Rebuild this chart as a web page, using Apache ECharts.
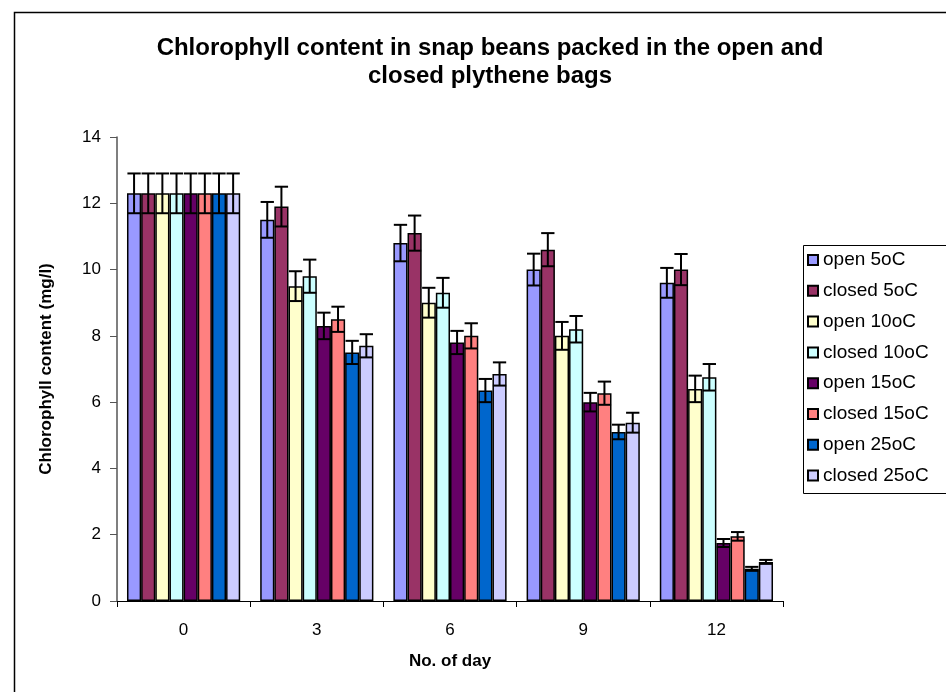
<!DOCTYPE html>
<html>
<head>
<meta charset="utf-8">
<script src="https://cdn.jsdelivr.net/npm/echarts@6/dist/echarts.min.js"></script>
<style>html,body{margin:0;padding:0;background:#fff;}#c{width:946px;height:692px;}</style>
</head>
<body>
<div id="c"></div>
<script>
var days = ['0', '3', '6', '9', '12'];
var seriesNames = ['open 5oC', 'closed 5oC', 'open 10oC', 'closed 10oC', 'open 15oC', 'closed 15oC', 'open 25oC', 'closed 25oC'];
var colors = ['#9999FF', '#993366', '#FFFFCC', '#CCFFFF', '#660066', '#FF8080', '#0066CC', '#CCCCFF'];

var open5    = [12.3, 11.5, 10.8, 10.0, 9.6];
var closed5  = [12.3, 11.9, 11.1, 10.6, 10.0];
var open10   = [12.3, 9.5, 9.0, 8.0, 6.4];
var closed10 = [12.3, 9.8, 9.3, 8.2, 6.75];
var open15   = [12.3, 8.3, 7.8, 6.0, 1.75];
var closed15 = [12.3, 8.5, 8.0, 6.27, 1.95];
var open25   = [12.3, 7.5, 6.35, 5.1, 0.97];
var closed25 = [12.3, 7.7, 6.85, 5.38, 1.18];

var err_open5    = [0.6, 0.54, 0.55, 0.48, 0.45];
var err_closed5  = [0.6, 0.6, 0.53, 0.5, 0.47];
var err_open10   = [0.6, 0.45, 0.45, 0.42, 0.4];
var err_closed10 = [0.6, 0.5, 0.45, 0.4, 0.4];
var err_open15   = [0.6, 0.4, 0.35, 0.28, 0.12];
var err_closed15 = [0.6, 0.38, 0.38, 0.35, 0.13];
var err_open25   = [0.6, 0.35, 0.35, 0.22, 0.06];
var err_closed25 = [0.6, 0.35, 0.35, 0.3, 0.06];

var yTicks = [0, 2, 4, 6, 8, 10, 12, 14];

var values = [open5, closed5, open10, closed10, open15, closed15, open25, closed25];
var errors = [err_open5, err_closed5, err_open10, err_closed10, err_open15, err_closed15, err_open25, err_closed25];

var CAT_GAP = 0.15;
var NS = seriesNames.length;

var series = [];
seriesNames.forEach(function (n, si) {
  series.push({
    type: 'bar', name: n, data: values[si],
    barGap: 0, barCategoryGap: (CAT_GAP * 100) + '%',
    itemStyle: { color: colors[si], borderColor: '#000', borderWidth: 1.5 },
    emphasis: { disabled: true }
  });
});
seriesNames.forEach(function (n, si) {
  series.push({
    type: 'custom', name: 'err_' + si, z: 10, silent: true,
    encode: { x: 0, y: 1 },
    renderItem: function (params, api) {
      var cat = api.value(0), v = api.value(1), e = api.value(2);
      var band = api.size([1, 0])[0];
      var groupW = band * (1 - CAT_GAP);
      var bw = groupW / NS;
      var c = api.coord([cat, v]);
      var x = c[0] - groupW / 2 + (si + 0.5) * bw;
      var top = api.coord([cat, v + e])[1];
      var bot = api.coord([cat, v - e])[1];
      var hw = bw * 0.47;
      var st = { stroke: '#000', lineWidth: 2 };
      return { type: 'group', children: [
        { type: 'line', shape: { x1: x, y1: top, x2: x, y2: bot }, style: st },
        { type: 'line', shape: { x1: x - hw, y1: top, x2: x + hw, y2: top }, style: st },
        { type: 'line', shape: { x1: x - hw, y1: bot, x2: x + hw, y2: bot }, style: st }
      ] };
    },
    data: days.map(function (d, i) { return [i, values[si][i], errors[si][i]]; })
  });
});

var chart = echarts.init(document.getElementById('c'));
chart.setOption({
  animation: false,
  backgroundColor: '#fff',
  title: {
    text: 'Chlorophyll content in snap beans packed in the open and\nclosed plythene bags',
    left: 485, top: 29, textAlign: 'center',
    textStyle: { fontFamily: 'Liberation Sans', fontWeight: 'bold', fontSize: 24, lineHeight: 28, color: '#000' }
  },
  graphic: [
    { type: 'rect', left: 12, top: 10, shape: { width: 950, height: 700 }, style: { fill: 'none', stroke: '#000', lineWidth: 1.5 }, z: -1 },
    { type: 'rect', left: 803, top: 245, shape: { width: 160, height: 248 }, style: { fill: '#fff', stroke: '#000', lineWidth: 1 }, z: 0 }
  ],
  legend: {
    data: seriesNames, orient: 'vertical', left: 807, top: 250, padding: 0,
    itemWidth: 10, itemHeight: 10, itemGap: 10.8, icon: 'rect',
    textStyle: { fontFamily: 'Liberation Sans', fontSize: 19, lineHeight: 20, color: '#000' }
  },
  grid: { left: 117, right: 163, top: 137, bottom: 91 },
  xAxis: {
    type: 'category', data: days,
    name: 'No. of day', nameLocation: 'middle', nameGap: 52,
    nameTextStyle: { fontFamily: 'Liberation Sans', fontWeight: 'bold', fontSize: 17, color: '#000' },
    axisLine: { lineStyle: { color: '#000', width: 1 } },
    axisTick: { show: true, length: 6, lineStyle: { color: '#000' } },
    axisLabel: { fontFamily: 'Liberation Sans', fontSize: 17, color: '#000', margin: 21 }
  },
  yAxis: {
    type: 'value', min: yTicks[0], max: yTicks[yTicks.length - 1], interval: 2,
    name: 'Chlorophyll content (mg/l)', nameLocation: 'middle', nameGap: 62,
    nameTextStyle: { fontFamily: 'Liberation Sans', fontWeight: 'bold', fontSize: 17, color: '#000' },
    axisLine: { show: true, lineStyle: { color: '#555', width: 1.5 } },
    axisTick: { show: true, length: 7, lineStyle: { color: '#555' } },
    axisLabel: { fontFamily: 'Liberation Sans', fontSize: 17, color: '#000', margin: 16 },
    splitLine: { show: false }
  },
  series: series
});
</script>
</body>
</html>
